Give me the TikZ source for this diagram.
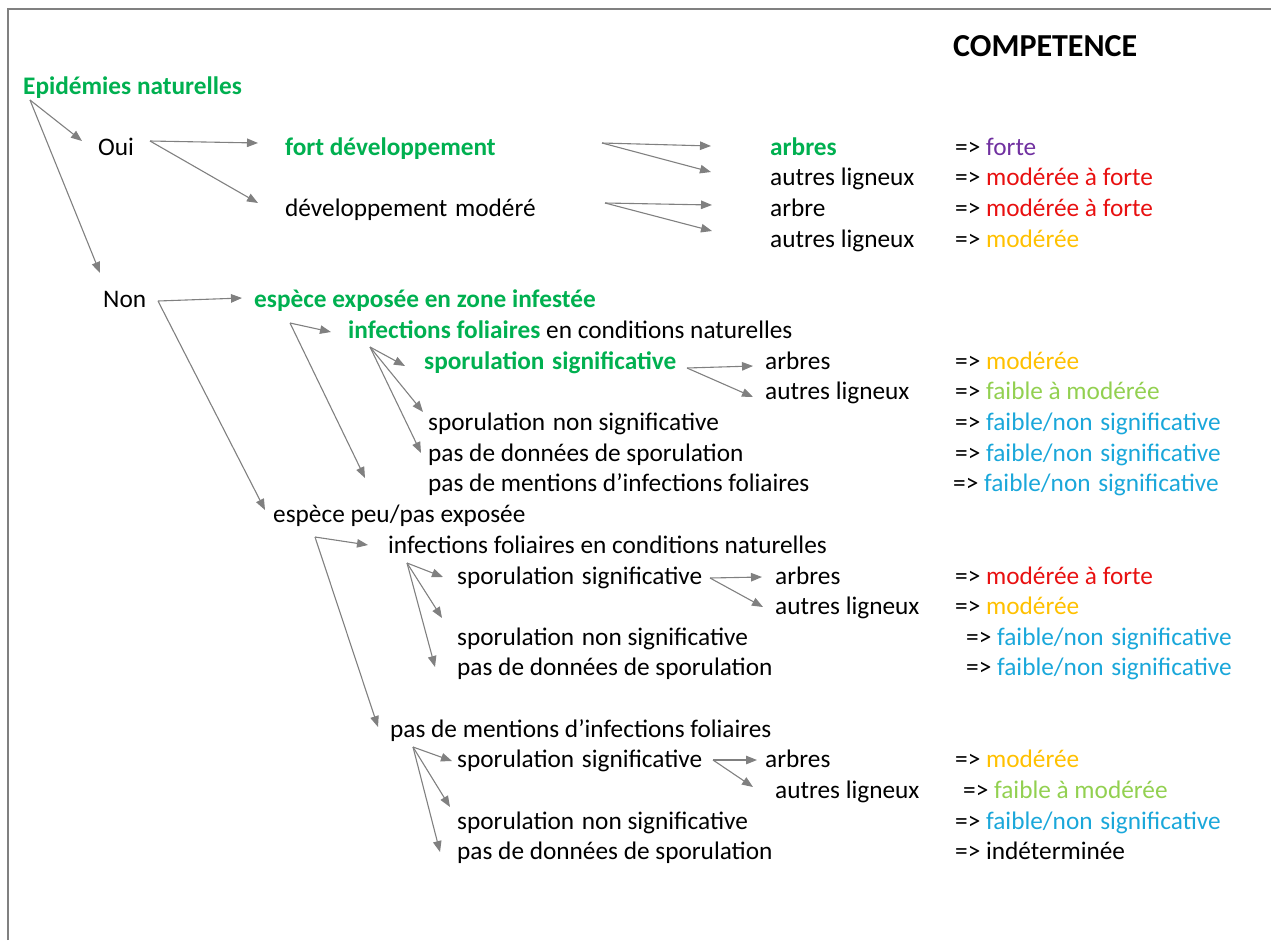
\documentclass[tikz,border=0pt]{standalone}
\usepackage{fontspec}
\setmainfont{Carlito}
\usetikzlibrary{arrows.meta}
\definecolor{vert}{HTML}{00B050}
\definecolor{violet}{HTML}{7030A0}
\definecolor{rouge}{HTML}{E81010}
\definecolor{jaune}{HTML}{FFC000}
\definecolor{vclair}{HTML}{92D050}
\definecolor{bleu}{HTML}{1AA7DA}
\definecolor{fleche}{HTML}{808080}
\newcommand{\wsp}{\ \hspace{2pt}}
\begin{document}
\begin{tikzpicture}[x=1pt,y=-1pt,
  txt/.style={anchor=base west,inner sep=0pt,font=\fontsize{25.3}{30}\selectfont},
  gtxt/.style={txt,text=vert,font=\fontsize{25.3}{30}\selectfont\bfseries},
  arr/.style={draw=fleche,line width=1.1pt,-{Triangle[length=11pt,width=8.5pt]}},
  frame/.style={draw=fleche,line width=2pt}]
\useasboundingbox (0,0) rectangle (1271,940);
\coordinate (f1) at (8,940); \coordinate (f2) at (8,9); \coordinate (f3) at (1271,9);
\draw[frame] (f1) -- (f2) -- (f3);

\node[txt,font=\fontsize{32}{38}\selectfont\bfseries] (comp) at (953,56) {COMPETENCE};

\node[gtxt] (epi) at (23,94) {Epidémies naturelles};
\node[txt] (oui) at (98,155) {Oui};
\node[gtxt] (fort) at (285,155) {fort développement};
\node[txt] (devm) at (285,216) {développement\wsp modéré};
\node[gtxt] (a1) at (770,155) {arbres};
\node[txt] (l1) at (770,185) {autres ligneux};
\node[txt] (a2) at (770,216) {arbre};
\node[txt] (l2) at (770,247) {autres ligneux};
\node[txt] (r1) at (955,155) {=> \textcolor{violet}{forte}};
\node[txt] (r2) at (955,185) {=> \textcolor{rouge}{modérée à forte}};
\node[txt] (r3) at (955,216) {=> \textcolor{rouge}{modérée à forte}};
\node[txt] (r4) at (955,247) {=> \textcolor{jaune}{modérée}};

\node[txt] (non) at (103,307) {Non};
\node[gtxt] (esp) at (254,307) {espèce exposée en zone infestée};
\node[txt] (inf1) at (348,338) {\textcolor{vert}{\bfseries infections foliaires} en conditions naturelles};
\node[gtxt] (sp1) at (424,369) {sporulation\wsp significative};
\node[txt] (a3) at (765,369) {arbres};
\node[txt] (l3) at (765,399) {autres ligneux};
\node[txt] (sn1) at (428,430) {sporulation\wsp non significative};
\node[txt] (pd1) at (428,461) {pas de données de sporulation};
\node[txt] (pm1) at (428,491) {pas de mentions d’infections foliaires};
\node[txt] (r5) at (955,369) {=> \textcolor{jaune}{modérée}};
\node[txt] (r6) at (955,399) {=> \textcolor{vclair}{faible à modérée}};
\node[txt] (r7) at (955,430) {=> \textcolor{bleu}{faible/non\wsp significative}};
\node[txt] (r8) at (955,461) {=> \textcolor{bleu}{faible/non\wsp significative}};
\node[txt] (r9) at (953,491) {=> \textcolor{bleu}{faible/non\wsp significative}};

\node[txt] (peu) at (273,522) {espèce peu/pas exposée};
\node[txt] (inf2) at (388,553) {infections foliaires en conditions naturelles};
\node[txt] (sp2) at (457,584) {sporulation\wsp significative};
\node[txt] (a4) at (775,584) {arbres};
\node[txt] (l4) at (775,614) {autres ligneux};
\node[txt] (sn2) at (457,645) {sporulation\wsp non significative};
\node[txt] (pd2) at (457,675) {pas de données de sporulation};
\node[txt] (r10) at (955,584) {=> \textcolor{rouge}{modérée à forte}};
\node[txt] (r11) at (955,614) {=> \textcolor{jaune}{modérée}};
\node[txt] (r12) at (966,645) {=> \textcolor{bleu}{faible/non\wsp significative}};
\node[txt] (r13) at (966,675) {=> \textcolor{bleu}{faible/non\wsp significative}};

\node[txt] (pm2) at (390,737) {pas de mentions d’infections foliaires};
\node[txt] (sp3) at (457,767) {sporulation\wsp significative};
\node[txt] (a5) at (765,767) {arbres};
\node[txt] (l5) at (775,798) {autres ligneux};
\node[txt] (sn3) at (457,829) {sporulation\wsp non significative};
\node[txt] (pd3) at (457,859) {pas de données de sporulation};
\node[txt] (r14) at (955,767) {=> \textcolor{jaune}{modérée}};
\node[txt] (r15) at (963,798) {=> \textcolor{vclair}{faible à modérée}};
\node[txt] (r16) at (955,829) {=> \textcolor{bleu}{faible/non\wsp significative}};
\node[txt] (r17) at (955,859) {=> indéterminée};

% arrow start / end coordinates
\coordinate (s1) at (30,100); \coordinate (t1a) at (82,141); \coordinate (t1b) at (100,273);
\coordinate (s2) at (150,141); \coordinate (t2a) at (258,143); \coordinate (t2b) at (258,203);
\coordinate (s3) at (602,143); \coordinate (t3a) at (711,146); \coordinate (t3b) at (711,172);
\coordinate (s4) at (605,203); \coordinate (t4a) at (712,205); \coordinate (t4b) at (712,231);
\coordinate (s5) at (158,301); \coordinate (t5a) at (242,298); \coordinate (t5b) at (265,510);
\coordinate (s6) at (290,323); \coordinate (t6a) at (331,332); \coordinate (t6b) at (365,478);
\coordinate (s7) at (370,347); \coordinate (t7a) at (405,366); \coordinate (t7b) at (423,412); \coordinate (t7c) at (421,453);
\coordinate (s8) at (687,368); \coordinate (t8a) at (753,366); \coordinate (t8b) at (753,397);
\coordinate (s9) at (315,537); \coordinate (t9a) at (368,545); \coordinate (t9b) at (378,727);
\coordinate (s10) at (407,563); \coordinate (t10a) at (443,577); \coordinate (t10b) at (442,618); \coordinate (t10c) at (435,667);
\coordinate (s11) at (710,578); \coordinate (t11a) at (762,577); \coordinate (t11b) at (763,607);
\coordinate (s12) at (413,747); \coordinate (t12a) at (452,761); \coordinate (t12b) at (450,807); \coordinate (t12c) at (440,852);
\coordinate (s13) at (713,760); \coordinate (t13a) at (757,760); \coordinate (t13b) at (753,787);

\foreach \s/\t in {s1/t1a,s1/t1b,s2/t2a,s2/t2b,s3/t3a,s3/t3b,s4/t4a,s4/t4b,
  s5/t5a,s5/t5b,s6/t6a,s6/t6b,s7/t7a,s7/t7b,s7/t7c,s8/t8a,s8/t8b,
  s9/t9a,s9/t9b,s10/t10a,s10/t10b,s10/t10c,s11/t11a,s11/t11b,
  s12/t12a,s12/t12b,s12/t12c,s13/t13a,s13/t13b}
  \draw[arr] (\s) -- (\t);
\end{tikzpicture}
\end{document}
